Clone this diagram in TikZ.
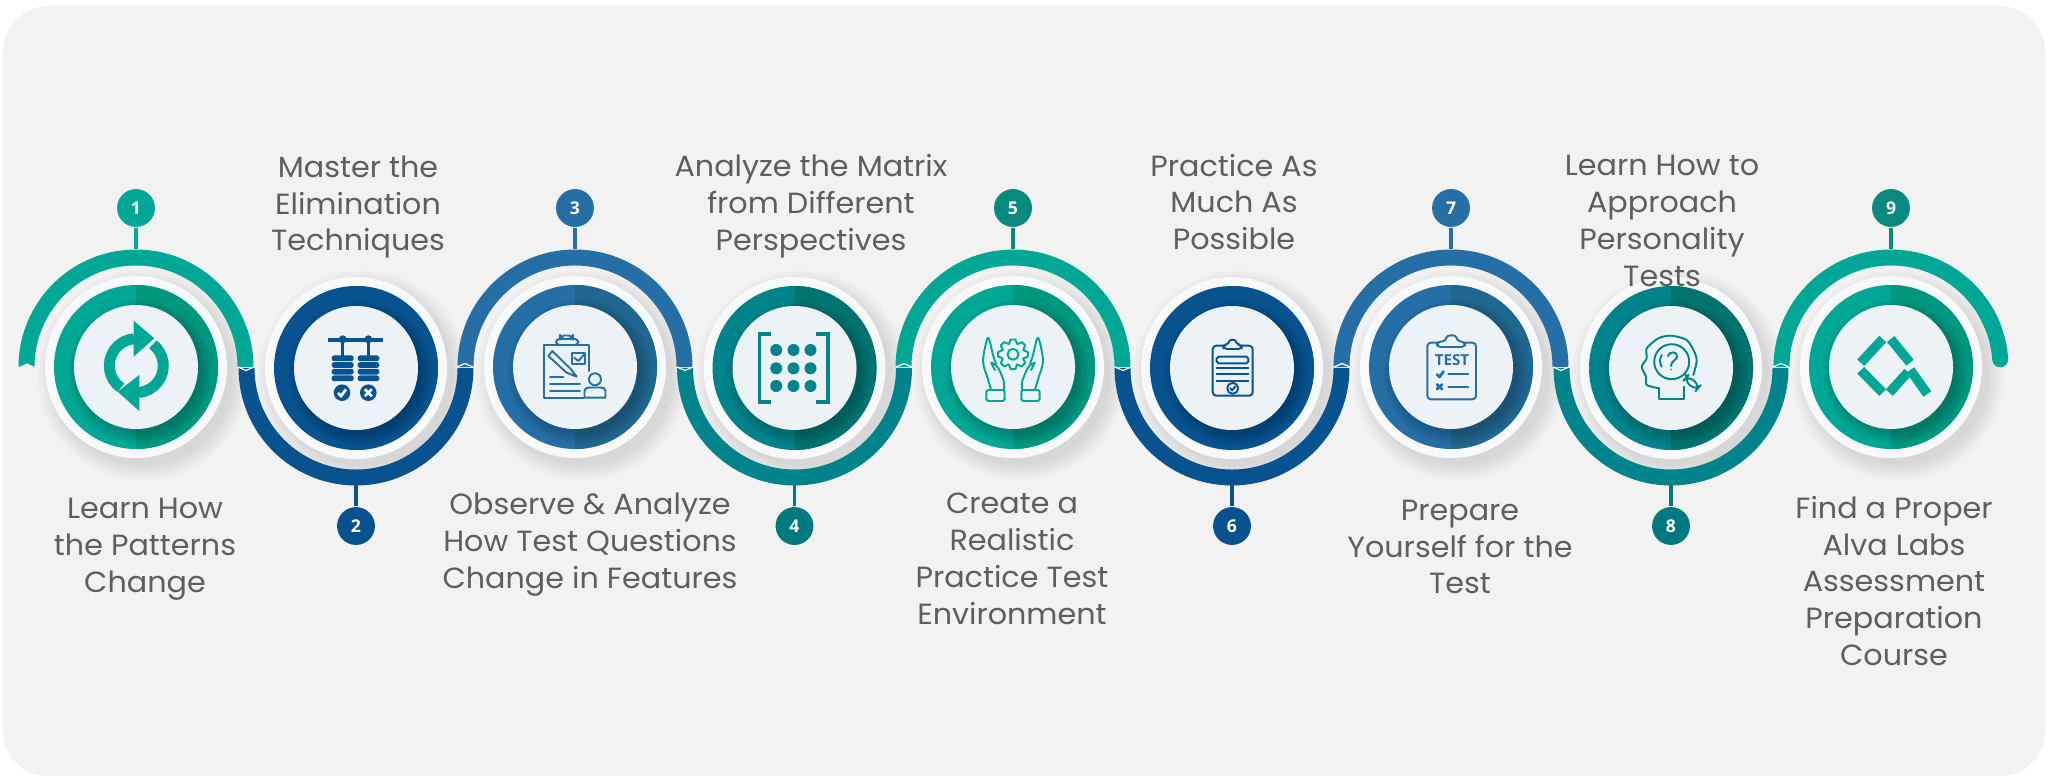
\documentclass[tikz,border=0pt]{standalone}
\usepackage{fontspec}
\usetikzlibrary{calc}
\setmainfont{Poppins}[FakeStretch=1.035]
\setsansfont{Open Sans}
\definecolor{cardbg}{HTML}{F2F2F2}
\definecolor{facebg}{HTML}{EDF2F6}
\definecolor{rimbg}{HTML}{F8F9FA}
\definecolor{textgray}{HTML}{5E5E5E}
\definecolor{greenA}{HTML}{00A795}
\definecolor{greenB}{HTML}{00977F}
\definecolor{navyA}{HTML}{07528F}
\definecolor{navyB}{HTML}{07528F}
\definecolor{blueA}{HTML}{256FA6}
\definecolor{blueB}{HTML}{1F6690}
\definecolor{petrolA}{HTML}{00838A}
\definecolor{petrolB}{HTML}{00736F}
\definecolor{badgeG}{HTML}{0A8A7E}
\definecolor{badgeP}{HTML}{007A7E}
\tikzset{
  bendarc/.style={line width=4.54pt},
  badge/.style={circle,minimum size=38*0.2835pt,inner sep=0pt,text=white,font=\sffamily\bfseries\fontsize{5}{6}\selectfont},
  stem/.style={line width=1.05pt},
  steptext/.style={align=center,text=textgray,inner sep=0pt,font=\fontsize{8.3}{10.5}\selectfont},
  notch/.style={white,line width=0.35pt},
  iconline/.style={line width=0.55pt,line cap=round,line join=round},
}
\begin{document}
\begin{tikzpicture}[x=0.01cm,y=0.01cm]
   \useasboundingbox (0,0) rectangle (2048,781);
   \fill [cardbg,rounded corners=12.8pt] (3,5) rectangle (2045,775);
   \coordinate (c1) at (136,414);
   \coordinate (c2) at (356,413);
   \coordinate (c3) at (575,414);
   \coordinate (c4) at (794.5,413);
   \coordinate (c5) at (1013,414);
   \coordinate (c6) at (1232,413);
   \coordinate (c7) at (1451,414);
   \coordinate (c8) at (1671,413);
   \coordinate (c9) at (1891,414);
   % shadows below the bends
   \foreach \i in {1,...,9}
      \foreach \r in {90,92,...,106}
         \fill [black,opacity=0.011] (c\i) ++(7,-8) circle (\r);
   % bends
   \foreach \i/\colA in {1/greenA,3/blueA,5/greenA,7/blueA}
      \draw [bendarc,\colA] (c\i) ++(180:109.5) arc (180:0:109.5);
   \draw [bendarc,greenA] (c9) ++(180:109.5) arc (180:20:109.5);
   \draw [bendarc,greenA,line cap=round] (c9) ++(30:109.5) arc (30:4:109.5);
   \foreach \i/\colA in {2/navyA,4/petrolA,6/navyA,8/petrolA}
      \draw [bendarc,\colA] (c\i) ++(180:109.5) arc (180:360:109.5);
   \fill [cardbg] (18,413.5) -- (27,417.5) -- (36,413.5) -- cycle;
   \foreach \x/\s in {246/-1,465/1,685/-1,904/1,1123/-1,1342/1,1561/-1,1781/1}
      \draw [notch] (\x-8,414) -- (\x,414+\s*3.5) -- (\x+8,414);
   % dials
   \foreach \i/\colA/\colB in {1/greenA/greenB,2/navyA/navyB,3/blueA/blueB,4/petrolA/petrolB,5/greenA/greenB,6/navyA/navyB,7/blueA/blueB,8/petrolA/petrolB,9/greenA/greenB} {
      \fill [rimbg] (c\i) circle (91);
      \fill [\colA] (c\i) circle (82);
      \fill [\colB] (c\i) ++(90:82) arc (90:-90:82) -- cycle;
      \begin{scope}
         \clip (c\i) circle (82);
         \foreach \r in {62,64,...,72}
            \fill [black,opacity=0.03] (c\i) ++(4,-5) circle (\r);
      \end{scope}
      \fill [facebg] (c\i) circle (62);
   }
   % numbers
   \node [badge,fill=greenA] (n1) at (136,573) {1};
   \node [badge,fill=navyA] (n2) at (356,255) {2};
   \node [badge,fill=blueA] (n3) at (575,573) {3};
   \node [badge,fill=badgeP] (n4) at (794.5,255) {4};
   \node [badge,fill=badgeG] (n5) at (1013,573) {5};
   \node [badge,fill=navyA] (n6) at (1232,255) {6};
   \node [badge,fill=blueA] (n7) at (1451,573) {7};
   \node [badge,fill=badgeP] (n8) at (1671,255) {8};
   \node [badge,fill=badgeG] (n9) at (1891,573) {9};
   \foreach \i/\colA in {1/greenA,3/blueA,5/badgeG,7/blueA,9/badgeG} {
      \coordinate (t\i) at ($(c\i)+(0,118)$);
      \draw [stem,\colA] (n\i) -- (t\i);
   }
   \foreach \i/\colA in {2/navyA,4/badgeP,6/navyA,8/badgeP} {
      \coordinate (t\i) at ($(c\i)+(0,-117)$);
      \draw [stem,\colA] (n\i) -- (t\i);
   }
   % icon 1
   \begin{scope}[shift={(c1)},greenA]
      \draw [line width=3.1pt] (0.3,1.3) ++(235:27) arc (235:95:27);
      \draw [line width=3.1pt] (0.3,1.3) ++(52:27) arc (52:-85:27);
      \fill (-2.3,46.3) -- (18.3,28.7) -- (-2.3,10.3) -- cycle;
      \fill (3.3,-8) -- (-18.3,-24.7) -- (3.3,-44) -- cycle;
   \end{scope}
   % icon 2
   \begin{scope}[shift={(c2)},navyA]
      \draw [line width=1pt] (-28.3,28) -- (26.7,28);
      \fill (-13.3,28.7) circle (4);
      \fill (12.3,28.7) circle (4);
      \draw [line width=0.7pt] (-13.3,28) -- (-13.3,10);
      \draw [line width=0.7pt] (12.3,28) -- (12.3,10);
      \foreach \y in {9.7,3,-3.7,-10.3} {
         \fill [rounded corners=0.7pt] (-24.3,\y-2.9) rectangle (-2.3,\y+2.9);
         \fill [rounded corners=0.7pt] (1.7,\y-2.9) rectangle (23.3,\y+2.9);
      }
      \fill (-14,-24.7) circle (8.3);
      \fill (12.3,-24.7) circle (8.3);
      \draw [white,line width=0.8pt] (-18,-25) -- (-15,-28) -- (-10,-21.5);
      \draw [white,line width=0.8pt] (8.8,-21.2) -- (15.8,-28.2);
      \draw [white,line width=0.8pt] (8.8,-28.2) -- (15.8,-21.2);
   \end{scope}
   % icon 3
   \begin{scope}[shift={(c3)},blueA,iconline]
      \draw (14,-4) -- (14,21.7) -- (-31,21.7) -- (-31,-30.7) -- (8.3,-30.7);
      \draw [fill=facebg,rounded corners=1pt] (-19,22) rectangle (3.3,28);
      \draw [fill=facebg,rounded corners=1.2pt] (-15,28) rectangle (-2,31.5);
      \draw (-26.7,11) -- (-22.7,16) -- (-4,-2.3) -- (1.7,-9.7) -- (-8.3,-5.7) -- cycle;
      \draw (-3.3,2.7) rectangle (10,14.3);
      \draw (-0.7,9.3) -- (3.3,6) -- (9.3,12.7);
      \draw (-25,-9.7) -- (-11.7,-9.7);
      \draw (-25,-17.3) -- (5,-17.3);
      \draw (-25,-24.3) -- (5,-24.3);
      \draw (20,-12.3) circle (6);
      \draw (9.5,-30.7) -- (9.5,-24) .. controls (9.5,-21) and (12,-20.5) .. (15,-20.5) -- (25,-20.5) .. controls (28,-20.5) and (30.5,-21) .. (30.5,-24) -- (30.5,-30.7) -- cycle;
   \end{scope}
   % icon 4
   \begin{scope}[shift={(c4)},petrolA]
      \foreach \x in {-18.3,-1,16}
         \foreach \y in {18,-0.3,-18}
            \fill (\x,\y) circle (6);
      \draw [line width=1pt] (-23.3,34) -- (-35,34) -- (-35,-34) -- (-23.3,-34);
      \draw [line width=1pt] (21.7,34) -- (33.3,34) -- (33.3,-34) -- (21.7,-34);
   \end{scope}
   % icon 5
   \begin{scope}[shift={(c5)},greenA,iconline]
      \draw (0,12.7) circle (5.5);
      \draw [shift={(0,12.7)}] (-9:15) \foreach \a in {0,45,...,315} {-- (\a-9:15) -- (\a+9:15) -- (\a+22:11)} -- cycle;
      \foreach \sx in {1,-1} {
         \begin{scope}[xscale=\sx]
            \draw plot [smooth] coordinates {(-22,-22.5) (-25,-12.3) (-30,6) (-25,29.3) (-20,12) (-17,3)};
            \draw plot [smooth] coordinates {(-18,-3) (-21.7,4.3) (-15,-0.7) (-9.3,-14) (-9,-22.5)};
            \draw [rounded corners=0.5pt] (-26.7,-23) rectangle (-8.3,-34);
         \end{scope}
      }
   \end{scope}
   % icon 6
   \begin{scope}[shift={(c6)},navyA,iconline]
      \draw [rounded corners=1pt] (-19.3,22.3) rectangle (20.7,-27.7);
      \draw [fill=facebg,rounded corners=1pt] (-8.7,19) -- (-8.7,23) -- (-3,24) .. controls (-2,28.5) and (3,28.5) .. (4,24) -- (9.7,23) -- (9.7,19) -- cycle;
      \draw [rounded corners=0.5pt] (-15.3,4.7) rectangle (16.3,11.3);
      \foreach \y in {0.3,-6,-12.7}
         \draw (-15.3,\y) -- (16.3,\y);
      \draw (0.7,-20.3) circle (5.5);
      \draw (-1.8,-20.3) -- (0.2,-22.3) -- (3.2,-18.5);
   \end{scope}
   % icon 7
   \begin{scope}[shift={(c7)},blueA,iconline]
      \draw [rounded corners=1pt] (-23.7,24.3) rectangle (25,-32.3);
      \draw [fill=facebg,rounded corners=1pt] (-14,20) -- (-14,25) -- (-5,26) .. controls (-4,32.5) and (5,32.5) .. (6,26) -- (14,25) -- (14,20) -- cycle;
      \node [inner sep=0pt,font=\sffamily\bfseries\fontsize{4.3}{5}\selectfont] (testword) at (1,6.7) {TEST};
      \draw [line width=0.8pt] (-14,-7.5) -- (-11.5,-10) -- (-7.5,-4.5);
      \draw (-2.7,-6.7) -- (17.3,-6.7);
      \draw [line width=0.8pt] (-14,-17.5) -- (-9,-22);
      \draw [line width=0.8pt] (-14,-22) -- (-9,-17.5);
      \draw (-2.7,-19.7) -- (17.3,-19.7);
   \end{scope}
   % icon 8
   \begin{scope}[shift={(c8)},petrolA,iconline]
      \draw (-11.7,-20.3) -- (-11.7,-31) -- (13.3,-31) -- (13.3,-18.7);
      \draw plot [smooth,tension=0.45] coordinates {(-11.7,-20.3) (-24.3,-17) (-25,-8.7) (-29.3,1.3) (-24.3,9.7) (-24.3,19.7) (-12.7,29.7) (0,32.3) (15.7,28) (24,14.7) (25.7,6.3) (22.3,-7)};
      \draw [fill=facebg] (0.7,6.3) circle (17.5);
      \draw (14,-6) -- (16.3,-10);
      \draw [fill=facebg,rounded corners=2pt,rotate around={-40:(21,-15)}] (13,-18) rectangle (29,-12);
      \draw (-9.3,13) .. controls (-11.5,9) and (-11.5,5) .. (-9.3,1.3);
      \draw (-3,12) .. controls (-2,17) and (7,17) .. (6,11) .. controls (5.5,8) and (0,7) .. (0,2);
      \fill (0,-1.5) circle (0.8);
   \end{scope}
   % icon 9
   \begin{scope}[shift={(c9)},greenA]
      \draw [line width=2.7pt] (-30.3,4.3) -- (-8.3,28);
      \draw [line width=2.7pt] (-0.3,28) -- (19,4.3);
      \draw [line width=2.7pt] (-30.3,-3.3) -- (-8.3,-25.7);
      \draw [line width=2.7pt] (-1.7,-25.7) -- (17,-5);
      \draw [line width=2.7pt] (19.3,-3) -- (36.3,-27);
   \end{scope}
   % labels
   \node [steptext] (t1label) at (145,232) {Learn How\\the Patterns\\Change};
   \node [steptext] (t2label) at (358,574) {Master the\\Elimination\\Techniques};
   \node [steptext] (t3label) at (590,236) {Observe \& Analyze\\How Test Questions\\Change in Features};
   \node [steptext] (t4label) at (811,575) {Analyze the Matrix\\from Different\\Perspectives};
   \node [steptext] (t5label) at (1012,222) {Create a\\Realistic\\Practice Test\\Environment};
   \node [steptext] (t6label) at (1234,579) {Practice As\\Much As\\Possible};
   \node [steptext] (t7label) at (1460,234) {Prepare\\Yourself for the\\Test};
   \node [steptext] (t8label) at (1662,560) {Learn How to\\Approach\\Personality\\Tests};
   \node [steptext] (t9label) at (1894,200) {Find a Proper\\Alva Labs\\Assessment\\Preparation\\Course};
\end{tikzpicture}
\end{document}
